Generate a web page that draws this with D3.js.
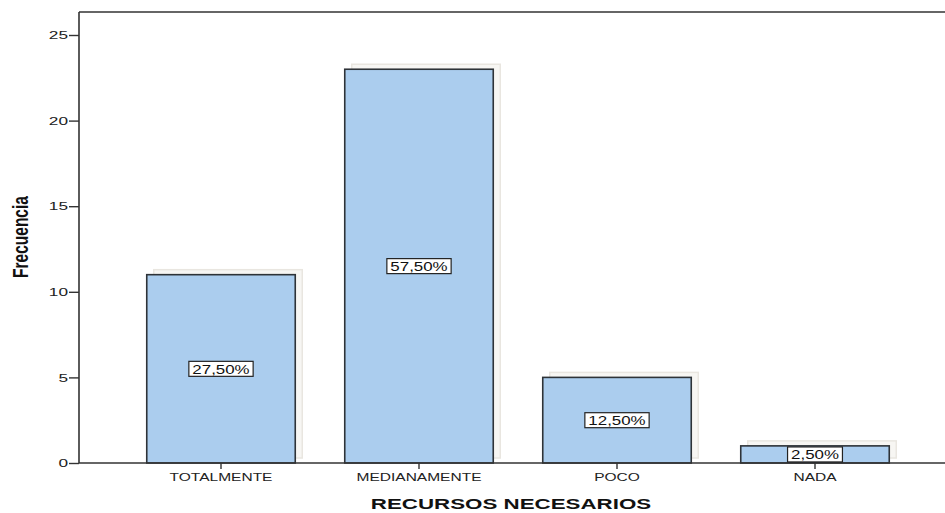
<!DOCTYPE html>
<html>
<head>
<meta charset="utf-8">
<script src="https://cdn.jsdelivr.net/npm/d3@7"></script>
<style>
  html, body { margin: 0; padding: 0; background: #fff; }
  svg { display: block; }
</style>
</head>
<body>
<svg id="chart" width="945" height="513"></svg>
<script>
// Frecuencias por categoría de "Recursos necesarios"
const categories = ["TOTALMENTE", "MEDIANAMENTE", "POCO", "NADA"];
const frequencies = [11, 23, 5, 1];
const percentLabels = ["27,50%", "57,50%", "12,50%", "2,50%"];
const yTicks = [0, 5, 10, 15, 20, 25];

const svg = d3.select("#chart");
const plot = { left: 79, right: 945, top: 12, bottom: 463 };

const x = d3.scaleBand()
  .domain(categories)
  .range([122, 914])
  .paddingInner(0.25)
  .paddingOuter(0.125);

const y = d3.scaleLinear()
  .domain([0, 25])
  .range([plot.bottom, 35]);

const font = "Arial, 'Liberation Sans', sans-serif";
// text is drawn horizontally widened
const wideTick = 1.5, wideCat = 1.35, widePct = 1.3, wideTitle = 1.49;

// top frame line
svg.append("line")
  .attr("x1", plot.left).attr("x2", plot.right)
  .attr("y1", plot.top).attr("y2", plot.top)
  .attr("stroke", "#666").attr("stroke-width", 2);

// faint drop shadows behind bars
svg.append("g").selectAll("rect")
  .data(categories)
  .join("rect")
  .attr("x", d => x(d) + 7)
  .attr("y", (d, i) => y(frequencies[i]) - 5)
  .attr("width", x.bandwidth())
  .attr("height", (d, i) => plot.bottom - y(frequencies[i]))
  .attr("fill", "#f7f6f3")
  .attr("stroke", "#e9e6e0")
  .attr("stroke-width", 1.5);

// bars
svg.append("g").selectAll("rect")
  .data(categories)
  .join("rect")
  .attr("x", d => x(d))
  .attr("y", (d, i) => y(frequencies[i]))
  .attr("width", x.bandwidth())
  .attr("height", (d, i) => plot.bottom - y(frequencies[i]))
  .attr("fill", "#abcdee")
  .attr("stroke", "#2e3338")
  .attr("stroke-width", 1.6);

// y axis
const yTickSize = 10, yTickPad = 1;
const yAxis = svg.append("g")
  .attr("transform", `translate(${plot.left},0)`)
  .call(d3.axisLeft(y).tickValues(yTicks).tickSize(yTickSize).tickPadding(yTickPad));
yAxis.select(".domain")
  .attr("d", `M0,${plot.top}V${plot.bottom}`)
  .attr("stroke", "#333").attr("stroke-width", 1.6);
yAxis.selectAll(".tick line").attr("stroke", "#333").attr("stroke-width", 1.4);
yAxis.selectAll(".tick text")
  .attr("x", 0)
  .attr("transform", `translate(${-(yTickSize + yTickPad)},0) scale(${wideTick},1)`)
  .attr("font-family", font).attr("font-size", 11.5).attr("fill", "#222");

// x axis
const xAxis = svg.append("g")
  .attr("transform", `translate(0,${plot.bottom})`)
  .call(d3.axisBottom(x).tickSize(6).tickPadding(4));
xAxis.select(".domain")
  .attr("d", `M${plot.left},0H${plot.right}`)
  .attr("stroke", "#333").attr("stroke-width", 1.6);
xAxis.selectAll(".tick line").attr("stroke", "#333").attr("stroke-width", 1.4);
xAxis.selectAll(".tick text")
  .attr("transform", `scale(${wideCat},1)`)
  .attr("font-family", font).attr("font-size", 11.5).attr("fill", "#222");

// percentage labels in boxes
const labels = svg.append("g").selectAll("g")
  .data(categories)
  .join("g")
  .attr("transform", (d, i) =>
    `translate(${x(d) + x.bandwidth() / 2},${y(frequencies[i] / 2)})`);

labels.append("text")
  .attr("text-anchor", "middle")
  .attr("dy", "0.36em")
  .attr("transform", `scale(${widePct},1)`)
  .attr("font-family", font)
  .attr("font-size", 13)
  .attr("fill", "#111")
  .text((d, i) => percentLabels[i]);

labels.each(function() {
  const g = d3.select(this);
  const bb = g.select("text").node().getBBox();
  const w = bb.width * widePct;
  g.insert("rect", "text")
    .attr("x", -w / 2 - 3.5)
    .attr("y", -7.5)
    .attr("width", w + 7)
    .attr("height", 15)
    .attr("fill", "#fff")
    .attr("stroke", "#222")
    .attr("stroke-width", 1.2);
});

// axis titles
svg.append("text")
  .attr("transform", `translate(${(plot.left + plot.right) / 2 - 1},509) scale(${wideTitle},1)`)
  .attr("text-anchor", "middle")
  .attr("font-family", font)
  .attr("font-weight", "bold")
  .attr("font-size", 15)
  .attr("fill", "#111")
  .text("RECURSOS NECESARIOS");

svg.append("text")
  .attr("transform", "translate(28,237) scale(1.4,1) rotate(-90)")
  .attr("text-anchor", "middle")
  .attr("font-family", font)
  .attr("font-weight", "bold")
  .attr("font-size", 15.5)
  .attr("fill", "#111")
  .text("Frecuencia");
</script>
</body>
</html>
